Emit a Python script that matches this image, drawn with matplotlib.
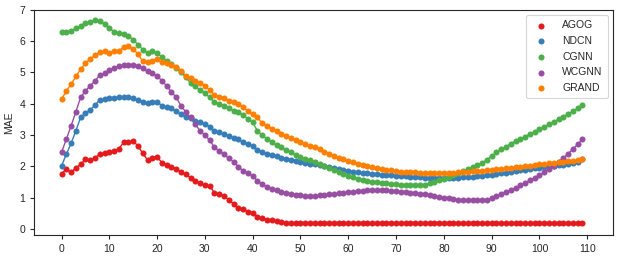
import numpy as np
import matplotlib
matplotlib.use("Agg")
import matplotlib.pyplot as plt

plt.rcParams['font.family'] = ['Liberation Sans', 'DejaVu Sans']

# epochs 0..109
agog = [1.76, 1.90, 1.81, 1.95, 2.06, 2.22, 2.19, 2.27, 2.38, 2.41,
        2.46, 2.50, 2.56, 2.76, 2.79, 2.80, 2.65, 2.41, 2.20, 2.27,
        2.31, 2.11, 2.03, 1.99, 1.92, 1.81, 1.74, 1.63, 1.53, 1.45,
        1.39, 1.37, 1.15, 1.10, 1.05, 0.92, 0.80, 0.67, 0.62, 0.55,
        0.51, 0.38, 0.33, 0.29, 0.27, 0.24, 0.22, 0.20, 0.19, 0.18,
        0.17, 0.17, 0.17, 0.17, 0.17, 0.17, 0.17, 0.17, 0.17, 0.17,
        0.17, 0.17, 0.17, 0.17, 0.17, 0.17, 0.17, 0.17, 0.17, 0.17,
        0.17, 0.17, 0.17, 0.17, 0.17, 0.17, 0.17, 0.17, 0.17, 0.17,
        0.17, 0.17, 0.17, 0.17, 0.17, 0.17, 0.17, 0.17, 0.17, 0.17,
        0.17, 0.17, 0.17, 0.17, 0.17, 0.17, 0.17, 0.17, 0.17, 0.17,
        0.17, 0.17, 0.17, 0.17, 0.17, 0.17, 0.17, 0.17, 0.17, 0.17]

ndcn = [2.01, 2.38, 2.73, 3.13, 3.56, 3.69, 3.80, 3.95, 4.12, 4.14,
        4.17, 4.19, 4.20, 4.21, 4.20, 4.17, 4.12, 4.07, 4.01, 4.04,
        4.07, 3.93, 3.88, 3.85, 3.77, 3.66, 3.59, 3.54, 3.45, 3.40,
        3.34, 3.27, 3.13, 3.08, 3.02, 2.97, 2.90, 2.86, 2.76, 2.70,
        2.65, 2.52, 2.46, 2.40, 2.36, 2.32, 2.27, 2.24, 2.21, 2.18,
        2.15, 2.11, 2.08, 2.06, 2.03, 2.01, 1.97, 1.94, 1.91, 1.88,
        1.86, 1.83, 1.81, 1.79, 1.78, 1.76, 1.75, 1.73, 1.72, 1.71,
        1.70, 1.69, 1.68, 1.67, 1.66, 1.64, 1.63, 1.62, 1.62, 1.61,
        1.61, 1.61, 1.62, 1.63, 1.64, 1.65, 1.66, 1.68, 1.69, 1.71,
        1.73, 1.75, 1.77, 1.79, 1.82, 1.85, 1.87, 1.89, 1.91, 1.93,
        1.95, 1.97, 2.00, 2.02, 2.04, 2.05, 2.07, 2.10, 2.14, 2.24]

cgnn = [6.30, 6.30, 6.33, 6.41, 6.49, 6.58, 6.62, 6.67, 6.64, 6.55,
        6.41, 6.30, 6.25, 6.24, 6.17, 6.04, 5.89, 5.73, 5.63, 5.69,
        5.63, 5.48, 5.37, 5.27, 5.13, 5.00, 4.84, 4.66, 4.55, 4.43,
        4.33, 4.20, 4.04, 3.98, 3.93, 3.85, 3.78, 3.74, 3.63, 3.52,
        3.40, 3.13, 2.99, 2.88, 2.78, 2.67, 2.60, 2.51, 2.44, 2.36,
        2.30, 2.24, 2.19, 2.14, 2.08, 2.02, 1.95, 1.88, 1.81, 1.75,
        1.69, 1.64, 1.60, 1.57, 1.54, 1.51, 1.49, 1.47, 1.45, 1.43,
        1.42, 1.41, 1.40, 1.40, 1.39, 1.39, 1.40, 1.45, 1.50, 1.56,
        1.60, 1.65, 1.71, 1.77, 1.84, 1.90, 1.97, 2.04, 2.11, 2.20,
        2.33, 2.44, 2.54, 2.63, 2.72, 2.81, 2.88, 2.95, 3.03, 3.10,
        3.18, 3.26, 3.34, 3.42, 3.50, 3.59, 3.67, 3.76, 3.85, 3.95]

wcgnn = [2.44, 2.86, 3.29, 3.74, 4.20, 4.41, 4.57, 4.73, 4.91, 4.97,
         5.07, 5.14, 5.19, 5.23, 5.24, 5.24, 5.21, 5.13, 5.03, 4.97,
         4.89, 4.73, 4.57, 4.38, 4.20, 3.93, 3.74, 3.56, 3.34, 3.13,
         2.99, 2.84, 2.60, 2.49, 2.38, 2.25, 2.14, 1.99, 1.85, 1.77,
         1.69, 1.53, 1.42, 1.35, 1.28, 1.23, 1.19, 1.14, 1.11, 1.09,
         1.07, 1.06, 1.05, 1.05, 1.07, 1.09, 1.10, 1.11, 1.13, 1.15,
         1.17, 1.19, 1.21, 1.22, 1.23, 1.24, 1.24, 1.24, 1.23, 1.22,
         1.21, 1.19, 1.17, 1.16, 1.14, 1.12, 1.10, 1.08, 1.05, 1.02,
         1.00, 0.97, 0.95, 0.93, 0.92, 0.92, 0.92, 0.92, 0.92, 0.93,
         0.98, 1.04, 1.10, 1.17, 1.24, 1.31, 1.39, 1.47, 1.55, 1.63,
         1.71, 1.80, 1.90, 2.02, 2.14, 2.27, 2.40, 2.55, 2.70, 2.86]

grand = [4.14, 4.41, 4.62, 4.87, 5.10, 5.30, 5.43, 5.55, 5.64, 5.69,
         5.62, 5.67, 5.70, 5.80, 5.83, 5.75, 5.59, 5.35, 5.32, 5.37,
         5.43, 5.32, 5.29, 5.24, 5.16, 5.05, 4.89, 4.82, 4.73, 4.66,
         4.57, 4.43, 4.27, 4.23, 4.17, 4.09, 4.05, 3.98, 3.88, 3.77,
         3.66, 3.56, 3.37, 3.29, 3.20, 3.12, 3.04, 2.97, 2.90, 2.85,
         2.78, 2.71, 2.65, 2.60, 2.54, 2.47, 2.40, 2.33, 2.27, 2.22,
         2.17, 2.12, 2.08, 2.04, 2.01, 1.97, 1.94, 1.91, 1.89, 1.87,
         1.85, 1.83, 1.81, 1.80, 1.80, 1.79, 1.79, 1.78, 1.78, 1.78,
         1.78, 1.78, 1.79, 1.80, 1.81, 1.83, 1.84, 1.85, 1.86, 1.87,
         1.88, 1.90, 1.92, 1.93, 1.95, 1.97, 1.98, 2.00, 2.02, 2.04,
         2.06, 2.07, 2.09, 2.11, 2.12, 2.14, 2.16, 2.18, 2.20, 2.23]

names = ["AGOG", "NDCN", "CGNN", "WCGNN", "GRAND"]
series = [agog, ndcn, cgnn, wcgnn, grand]
colors = ["#e41a1c", "#377eb8", "#4daf4a", "#984ea3", "#ff7f00"]

dark = "#262626"
fig = plt.figure(figsize=(6.23, 2.6), dpi=100)
ax = fig.add_axes([0.055, 0.096, 0.929, 0.866])

for name, vals, col in zip(names, series, colors):
    x = np.arange(len(vals))
    ax.plot(x, vals, color=col, lw=1.0, zorder=2)
    ax.scatter(x, vals, color=col, s=19, label=name, zorder=3, linewidths=0)

ax.set_xlim(-5.7, 115.4)
ax.set_ylim(-0.2, 7.0)
ax.set_xticks(np.arange(0, 111, 10))
ax.set_yticks(np.arange(0, 8, 1))
ax.set_ylabel("MAE", fontsize=7.5, color=dark)
ax.tick_params(labelsize=7.5, colors=dark, length=3, width=0.8, direction='out')
for s in ax.spines.values():
    s.set_color(dark)
    s.set_linewidth(0.8)

leg = ax.legend(loc="upper right", fontsize=7.5, frameon=True, scatterpoints=1,
                handletextpad=1.0, labelspacing=0.55, borderpad=0.5)
leg.get_frame().set_edgecolor("#cccccc")
leg.get_frame().set_linewidth(0.8)
for t in leg.get_texts():
    t.set_color(dark)

fig.savefig("out.png", dpi=100)
